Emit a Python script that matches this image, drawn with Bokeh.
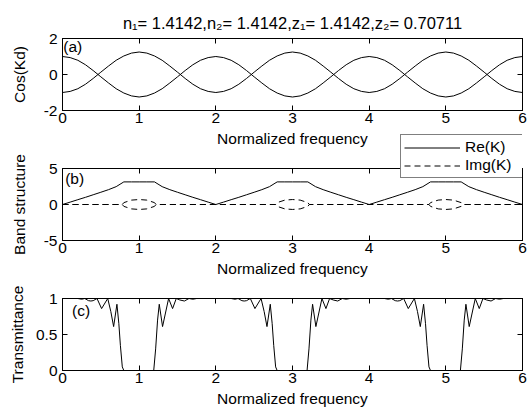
from bokeh.plotting import figure
from bokeh.models import (Range1d, FixedTicker, LinearAxis, Label, Legend, LegendItem,
                          NumeralTickFormatter)
from bokeh.layouts import column
from bokeh.embed import file_html
from bokeh.resources import INLINE

# ---------------- data ----------------
x_ticks = [0, 1, 2, 3, 4, 5, 6]
x_tick_labels = ["0", "1", "2", "3", "4", "5", "6"]

a_ticks = [-2, 0, 2]
a_tick_labels = ["-2", "0", "2"]
b_ticks = [-5, 0, 5]
b_tick_labels = ["-5", "0", "5"]
c_ticks = [0, 0.5, 1]
c_tick_labels = ["0", "0.5", "1"]

title_text = "n\u2081= 1.4142,n\u2082= 1.4142,z\u2081= 1.4142,z\u2082= 0.70711"
legend_labels = ["Re(K)", "Img(K)"]
# off-frame stand-ins that only carry the legend key styles
legend_key_x = [0, 1]
legend_key_y = [-1, -1]

freq_a = [0.0, 0.1, 0.2, 0.3, 0.4, 0.5, 0.6, 0.7, 0.8, 0.9,
          1.0, 1.1, 1.2, 1.3, 1.4, 1.5, 1.6, 1.7, 1.8, 1.9,
          2.0, 2.1, 2.2, 2.3, 2.4, 2.5, 2.6, 2.7, 2.8, 2.9,
          3.0, 3.1, 3.2, 3.3, 3.4, 3.5, 3.6, 3.7, 3.8, 3.9,
          4.0, 4.1, 4.2, 4.3, 4.4, 4.5, 4.6, 4.7, 4.8, 4.9,
          5.0, 5.1, 5.2, 5.3, 5.4, 5.5, 5.6, 5.7, 5.8, 5.9, 6.0]

cos_kd_1 = [1.0, 0.94, 0.79, 0.54, 0.22, -0.13, -0.47, -0.79, -1.03, -1.19,
            -1.25, -1.19, -1.03, -0.79, -0.47, -0.13, 0.22, 0.54, 0.79, 0.94,
            1.0, 0.94, 0.79, 0.54, 0.22, -0.13, -0.47, -0.79, -1.03, -1.19,
            -1.25, -1.19, -1.03, -0.79, -0.47, -0.13, 0.22, 0.54, 0.79, 0.94,
            1.0, 0.94, 0.79, 0.54, 0.22, -0.13, -0.47, -0.79, -1.03, -1.19,
            -1.25, -1.19, -1.03, -0.79, -0.47, -0.13, 0.22, 0.54, 0.79, 0.94, 1.0]

cos_kd_2 = [-1.0, -0.94, -0.79, -0.54, -0.22, 0.13, 0.47, 0.79, 1.03, 1.19,
            1.25, 1.19, 1.03, 0.79, 0.47, 0.13, -0.22, -0.54, -0.79, -0.94,
            -1.0, -0.94, -0.79, -0.54, -0.22, 0.13, 0.47, 0.79, 1.03, 1.19,
            1.25, 1.19, 1.03, 0.79, 0.47, 0.13, -0.22, -0.54, -0.79, -0.94,
            -1.0, -0.94, -0.79, -0.54, -0.22, 0.13, 0.47, 0.79, 1.03, 1.19,
            1.25, 1.19, 1.03, 0.79, 0.47, 0.13, -0.22, -0.54, -0.79, -0.94, -1.0]

re_k = [0.0, 0.33, 0.67, 1.0, 1.35, 1.7, 2.06, 2.48, 3.14, 3.14,
        3.14, 3.14, 3.14, 2.48, 2.06, 1.7, 1.35, 1.0, 0.67, 0.33,
        0.0, 0.33, 0.67, 1.0, 1.35, 1.7, 2.06, 2.48, 3.14, 3.14,
        3.14, 3.14, 3.14, 2.48, 2.06, 1.7, 1.35, 1.0, 0.67, 0.33,
        0.0, 0.33, 0.67, 1.0, 1.35, 1.7, 2.06, 2.48, 3.14, 3.14,
        3.14, 3.14, 3.14, 2.48, 2.06, 1.7, 1.35, 1.0, 0.67, 0.33, 0.0]

freq_img = [0.0, 0.78, 0.8, 0.9, 1.0, 1.1, 1.2, 1.22,
            2.78, 2.8, 2.9, 3.0, 3.1, 3.2, 3.22,
            4.78, 4.8, 4.9, 5.0, 5.1, 5.2, 5.22, 6.0]
img_k_up = [0.0, 0.0, 0.26, 0.61, 0.69, 0.61, 0.26, 0.0,
            0.0, 0.26, 0.61, 0.69, 0.61, 0.26, 0.0,
            0.0, 0.26, 0.61, 0.69, 0.61, 0.26, 0.0, 0.0]
img_k_down = [0.0, 0.0, -0.26, -0.61, -0.69, -0.61, -0.26, 0.0,
              0.0, -0.26, -0.61, -0.69, -0.61, -0.26, 0.0,
              0.0, -0.26, -0.61, -0.69, -0.61, -0.26, 0.0, 0.0]

freq_t = [0.0, 0.1, 0.2, 0.25, 0.29, 0.34, 0.37, 0.4, 0.45, 0.51, 0.59, 0.63, 0.667,
          0.71, 0.735, 0.755, 0.78, 0.8, 1.19, 1.215, 1.24, 1.262, 1.305, 1.384,
          1.436, 1.484, 1.53, 1.59, 1.65, 1.7, 1.75, 1.8,
          2.0, 2.1, 2.2, 2.25, 2.29, 2.34, 2.37, 2.4, 2.45, 2.51, 2.59, 2.63, 2.667,
          2.71, 2.735, 2.755, 2.78, 2.8, 3.19, 3.215, 3.24, 3.262, 3.305, 3.384,
          3.436, 3.484, 3.53, 3.59, 3.65, 3.7, 3.75, 3.8,
          4.0, 4.1, 4.2, 4.25, 4.29, 4.34, 4.37, 4.4, 4.45, 4.51, 4.59, 4.63, 4.667,
          4.71, 4.735, 4.755, 4.78, 4.8, 5.19, 5.215, 5.24, 5.262, 5.305, 5.384,
          5.436, 5.484, 5.53, 5.59, 5.65, 5.7, 5.75, 5.8, 6.0]
transmittance = [1.0, 1.0, 1.0, 0.99, 1.0, 0.97, 0.965, 0.97, 1.0, 0.86, 1.0, 0.82, 0.61,
                 0.92, 0.65, 0.35, 0.05, 0.0, 0.0, 0.3, 0.7, 0.92, 0.61, 1.0,
                 0.86, 1.0, 0.98, 0.965, 1.0, 0.99, 1.0, 1.0,
                 1.0, 1.0, 1.0, 0.99, 1.0, 0.97, 0.965, 0.97, 1.0, 0.86, 1.0, 0.82, 0.61,
                 0.92, 0.65, 0.35, 0.05, 0.0, 0.0, 0.3, 0.7, 0.92, 0.61, 1.0,
                 0.86, 1.0, 0.98, 0.965, 1.0, 0.99, 1.0, 1.0,
                 1.0, 1.0, 1.0, 0.99, 1.0, 0.97, 0.965, 0.97, 1.0, 0.86, 1.0, 0.82, 0.61,
                 0.92, 0.65, 0.35, 0.05, 0.0, 0.0, 0.3, 0.7, 0.92, 0.61, 1.0,
                 0.86, 1.0, 0.98, 0.965, 1.0, 0.99, 1.0, 1.0, 1.0]

# ---------------- styling ----------------
FONT = "Liberation Sans"
FS = "15.5px"
DASH = "6 4"


def style_axis(ax, ticks, labels, show):
    ax.ticker = FixedTicker(ticks=ticks)
    ax.formatter = NumeralTickFormatter(format="0.[0]")
    ax.major_label_overrides = {t: l for t, l in zip(ticks, labels)}
    ax.major_tick_in = 5
    ax.major_tick_out = 0
    ax.minor_tick_line_color = None
    ax.axis_line_color = "black"
    ax.axis_line_width = 1
    ax.major_tick_line_color = "black"
    ax.major_tick_line_width = 1
    ax.major_label_text_font = FONT
    if show:
        ax.major_label_text_font_size = FS
        ax.major_label_text_color = "black"
    else:
        ax.major_label_text_font_size = "1px"
        ax.major_label_text_color = None
        ax.major_label_standoff = 0


def make_panel(height, top, bottom, y_lo, y_hi, yticks, ylabels, ytitle, ystand):
    p = figure(width=527, height=height, x_range=Range1d(0, 6), y_range=Range1d(y_lo, y_hi),
               output_backend="svg", toolbar_location=None,
               min_border_left=62, min_border_right=5,
               min_border_top=top, min_border_bottom=bottom)
    p.title.visible = False
    p.xgrid.visible = False
    p.ygrid.visible = False
    p.outline_line_color = "black"
    p.outline_line_width = 1
    p.border_fill_color = None
    p.background_fill_color = "white"
    xa = p.below[0]
    ya = p.left[0]
    style_axis(xa, x_ticks, x_tick_labels, True)
    style_axis(ya, yticks, ylabels, True)
    xa.major_label_standoff = 2
    ya.major_label_standoff = 5
    xa.axis_label = "Normalized frequency"
    ya.axis_label = ytitle
    for ax in (xa, ya):
        ax.axis_label_text_font = FONT
        ax.axis_label_text_font_size = FS
        ax.axis_label_text_font_style = "normal"
        ax.axis_label_text_color = "black"
    xa.axis_label_standoff = 4
    ya.axis_label_standoff = ystand
    top_ax = LinearAxis()
    style_axis(top_ax, x_ticks, x_tick_labels, False)
    right_ax = LinearAxis()
    style_axis(right_ax, yticks, ylabels, False)
    p.add_layout(top_ax, "above")
    p.add_layout(right_ax, "right")
    return p


def tag(p, x, y, txt):
    p.add_layout(Label(x=x, y=y, text=txt, text_font=FONT, text_font_size=FS,
                       text_color="black", text_baseline="middle", text_align="left"))


# panel (a)
pa = make_panel(157, 38, 47, -2, 2, a_ticks, a_tick_labels, "Cos(Kd)", 13)
pa.line(freq_a, cos_kd_1, line_color="black", line_width=1)
pa.line(freq_a, cos_kd_2, line_color="black", line_width=1)
tag(pa, 0.01, 1.56, "(a)")
pa.title.visible = True
pa.title.text = title_text
pa.title.align = "center"
pa.title.text_font = FONT
pa.title.text_font_size = "16.5px"
pa.title.text_font_style = "normal"
pa.title.text_color = "black"
pa.title.standoff = 13

# panel (b)
pb = make_panel(150, 35, 43, -5, 5, b_ticks, b_tick_labels, "Band structure", 13)
pb.margin = (-24, 0, 0, 0)
pb.line(freq_a, re_k, line_color="black", line_width=1)
pb.line(freq_img, img_k_up, line_color="black", line_width=1, line_dash=DASH)
pb.line(freq_img, img_k_down, line_color="black", line_width=1, line_dash=DASH)
tag(pb, 0.035, 3.6, "(b)")

# legend, drawn in its own transparent full-width canvas laid over panels (a)/(b)
pl = figure(width=527, height=50, x_range=Range1d(0, 1), y_range=Range1d(0, 1),
            output_backend="svg", toolbar_location=None,
            x_axis_type=None, y_axis_type=None,
            min_border_left=62, min_border_right=5, min_border_top=0, min_border_bottom=0)
pl.title.visible = False
pl.outline_line_color = None
pl.border_fill_color = None
pl.background_fill_color = None
pl.xgrid.visible = False
pl.ygrid.visible = False
key_re = pl.line(legend_key_x, legend_key_y, line_color="black", line_width=1)
key_im = pl.line(legend_key_x, legend_key_y, line_color="black", line_width=1, line_dash=DASH)
legend = Legend(items=[LegendItem(label=legend_labels[0], renderers=[key_re]),
                       LegendItem(label=legend_labels[1], renderers=[key_im])],
                location=(338, 2), margin=0, padding=3, spacing=0,
                glyph_width=56, glyph_height=17, label_height=17, label_width=54,
                label_standoff=5, label_text_font=FONT, label_text_font_size=FS,
                label_text_color="black", border_line_color="black", border_line_width=1,
                background_fill_color="white", background_fill_alpha=1.0)
pl.add_layout(legend)
pl.margin = (-153, 0, 0, 0)

# panel (c)
pc = make_panel(129, 15, 42, 0, 1, c_ticks, c_tick_labels, "Transmittance", 7)
pc.margin = (103, 0, 0, 0)
pc.line(freq_t, transmittance, line_color="black", line_width=1)
tag(pc, 0.125, 0.84, "(c)")

layout = column(pa, pb, pl, pc)
open("out.html", "w").write(file_html(layout, INLINE))
